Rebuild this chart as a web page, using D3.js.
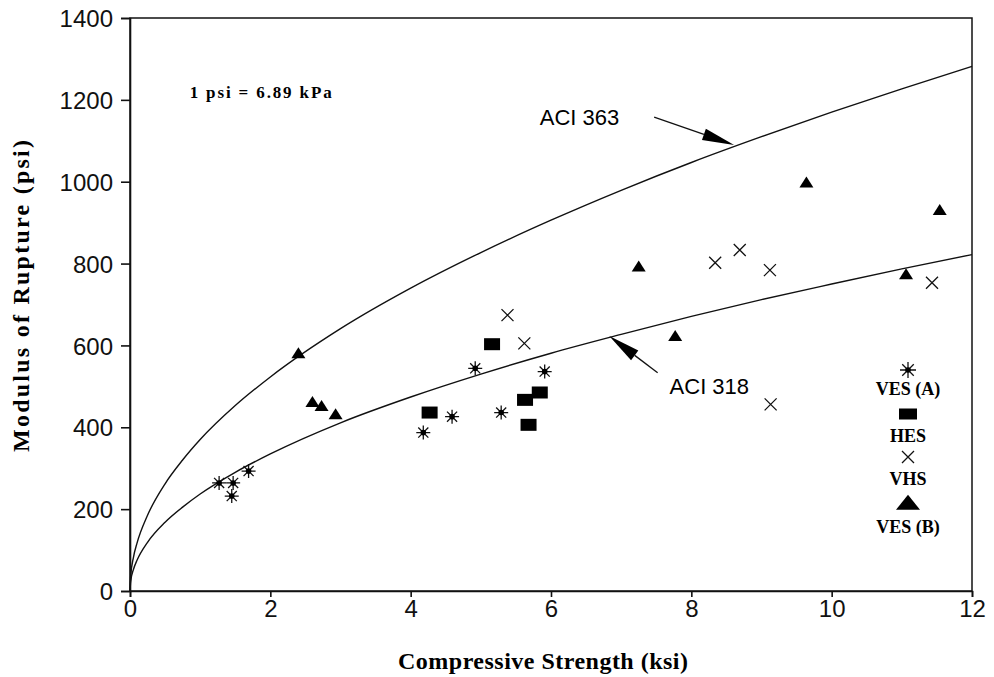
<!DOCTYPE html>
<html>
<head>
<meta charset="utf-8">
<script src="https://cdn.jsdelivr.net/npm/d3@7"></script>
<style>
  body { margin: 0; background: #fff; }
  svg { display: block; }
</style>
</head>
<body>
<div id="chart"></div>
<script>
// Data
const curveX = [0, 0.01, 0.05, 0.1, 0.25, 0.5, 0.75, 1, 1.5, 2, 3, 4, 5, 6, 7, 8, 9, 10, 11, 12];
const aci363 = [0, 37, 83, 117, 185, 262, 320, 370, 453, 523, 641, 740, 827, 906, 979, 1047, 1110, 1170, 1227, 1282];
const aci318 = [0, 24, 53, 75, 119, 168, 205, 237, 290, 335, 411, 474, 530, 581, 627, 671, 712, 750, 787, 822];

// [compressive strength ksi, modulus of rupture psi]
const vesA = [[1.27, 264], [1.47, 264], [1.45, 232], [1.69, 293], [4.18, 387], [4.59, 426], [5.29, 436], [4.92, 544], [5.91, 536]];
const hes = [[4.27, 436], [5.16, 603], [5.63, 467], [5.84, 485], [5.68, 406]];
const vhs = [[5.38, 674], [5.62, 605], [8.34, 802], [8.69, 833], [9.12, 784], [11.43, 753], [9.13, 456]];
const vesB = [[2.40, 579], [2.60, 460], [2.73, 450], [2.93, 430], [7.25, 791], [7.77, 621], [9.64, 996], [11.54, 929], [11.06, 772]];

const xTicks = [0, 2, 4, 6, 8, 10, 12];
const yTicks = [0, 200, 400, 600, 800, 1000, 1200, 1400];

const W = 994, H = 677;
const margin = { top: 18, right: 22, bottom: 86, left: 130 };
const width = W - margin.left - margin.right;
const height = H - margin.top - margin.bottom;

const svg = d3.select("#chart").append("svg")
    .attr("width", W)
    .attr("height", H);

const g = svg.append("g")
    .attr("transform", `translate(${margin.left},${margin.top})`);

const x = d3.scaleLinear().domain([0, 12]).range([0, width]);
const y = d3.scaleLinear().domain([0, 1400]).range([height, 0]);

const serif = "'Liberation Serif', 'Times New Roman', serif";
const sans = "'Liberation Sans', Arial, sans-serif";

// Frame (top and right sides)
g.append("rect")
    .attr("width", width)
    .attr("height", height)
    .attr("fill", "none")
    .attr("stroke", "#111")
    .attr("stroke-width", 1.5);

// Axes
const xAxis = g.append("g")
    .attr("transform", `translate(0,${height})`)
    .call(d3.axisBottom(x).tickValues(xTicks).tickSize(6).tickPadding(3).tickFormat(d3.format("d")));

const yAxis = g.append("g")
    .call(d3.axisLeft(y).tickValues(yTicks).tickSize(9).tickPadding(8).tickFormat(d3.format("d")));

[xAxis, yAxis].forEach(a => {
    a.selectAll("path, line").attr("stroke", "#111").attr("stroke-width", 1.6);
    a.selectAll("text")
        .attr("fill", "#111")
        .style("font-family", sans)
        .style("font-size", "24px");
});
yAxis.selectAll("text").attr("dy", "0.36em");

// Axis titles
svg.append("text")
    .attr("x", 543)
    .attr("y", 669)
    .attr("text-anchor", "middle")
    .attr("textLength", 290)
    .attr("lengthAdjust", "spacing")
    .style("font-family", serif)
    .style("font-weight", "bold")
    .style("font-size", "24px")
    .text("Compressive Strength (ksi)");

svg.append("text")
    .attr("transform", "translate(29,296) rotate(-90)")
    .attr("text-anchor", "middle")
    .attr("textLength", 312)
    .attr("lengthAdjust", "spacing")
    .style("font-family", serif)
    .style("font-weight", "bold")
    .style("font-size", "24px")
    .text("Modulus of Rupture (psi)");

// Code curves
const line = d3.line()
    .x(d => x(d[0]))
    .y(d => y(d[1]))
    .curve(d3.curveMonotoneX);

[aci363, aci318].forEach(vals => {
    g.append("path")
        .datum(curveX.map((v, i) => [v, vals[i]]))
        .attr("d", line)
        .attr("fill", "none")
        .attr("stroke", "#111")
        .attr("stroke-width", 1.4);
});

// Marker drawers
function triangle(sel, w, h) {
    sel.append("path")
        .attr("d", `M0,${-h * 0.62}L${w / 2},${h * 0.38}L${-w / 2},${h * 0.38}Z`)
        .attr("fill", "#000");
}
function square(sel, w, h) {
    sel.append("rect")
        .attr("x", -w / 2).attr("y", -h / 2)
        .attr("width", w).attr("height", h)
        .attr("fill", "#000");
}
function cross(sel, s) {
    sel.append("path")
        .attr("d", `M${-s},${-s}L${s},${s}M${-s},${s}L${s},${-s}`)
        .attr("stroke", "#111")
        .attr("stroke-width", 1.3);
}
function asterisk(sel, s) {
    const d = s * 0.72;
    sel.append("path")
        .attr("d", `M${-s},0L${s},0M0,${-s}L0,${s}M${-d},${-d}L${d},${d}M${-d},${d}L${d},${-d}`)
        .attr("stroke", "#111")
        .attr("stroke-width", 1.3);
    sel.append("circle").attr("r", 2.8).attr("fill", "#000");
}

function plot(data, draw) {
    g.selectAll(null)
        .data(data)
        .enter()
        .append("g")
        .attr("transform", d => `translate(${x(d[0])},${y(d[1])})`)
        .each(function () { draw(d3.select(this)); });
}

plot(vesA, s => asterisk(s, 7));
plot(hes, s => square(s, 16, 12));
plot(vhs, s => cross(s, 6));
plot(vesB, s => triangle(s, 14, 11));

// Annotations
g.append("text")
    .attr("x", x(0.85))
    .attr("y", y(1204))
    .attr("textLength", 142)
    .attr("lengthAdjust", "spacing")
    .style("font-family", serif)
    .style("font-weight", "bold")
    .style("font-size", "17px")
    .text("1 psi = 6.89 kPa");

function arrow(x1, y1, x2, y2) {
    const p1 = [x(x1), y(y1)], p2 = [x(x2), y(y2)];
    const ang = Math.atan2(p2[1] - p1[1], p2[0] - p1[0]);
    const len = 32, hw = 6;
    const bx = p2[0] - len * Math.cos(ang), by = p2[1] - len * Math.sin(ang);
    const nx = -Math.sin(ang) * hw, ny = Math.cos(ang) * hw;
    g.append("line")
        .attr("x1", p1[0]).attr("y1", p1[1])
        .attr("x2", bx).attr("y2", by)
        .attr("stroke", "#111").attr("stroke-width", 1.3);
    g.append("path")
        .attr("d", `M${p2[0]},${p2[1]}L${bx + nx},${by + ny}L${bx - nx},${by - ny}Z`)
        .attr("fill", "#000");
}

g.append("text")
    .attr("x", x(5.84))
    .attr("y", y(1138))
    .style("font-family", sans)
    .style("font-size", "22px")
    .text("ACI 363");
arrow(7.47, 1158, 8.61, 1090);

g.append("text")
    .attr("x", x(7.69))
    .attr("y", y(481))
    .style("font-family", sans)
    .style("font-size", "22px")
    .text("ACI 318");
arrow(7.52, 533, 6.83, 623);

// Legend
const legendItems = [
    { label: "VES (A)", draw: s => asterisk(s, 8), sy: 370, ty: 395 },
    { label: "HES", draw: s => square(s, 18, 11), sy: 414, ty: 442 },
    { label: "VHS", draw: s => cross(s, 6), sy: 457, ty: 485 },
    { label: "VES (B)", draw: s => triangle(s, 24, 15), sy: 504, ty: 533 }
];

const legend = svg.append("g").attr("transform", "translate(908,0)");
legendItems.forEach(it => {
    const s = legend.append("g").attr("transform", `translate(0,${it.sy})`);
    it.draw(s);
    legend.append("text")
        .attr("x", 0)
        .attr("y", it.ty)
        .attr("text-anchor", "middle")
        .style("font-family", serif)
        .style("font-weight", "bold")
        .style("font-size", "18px")
        .text(it.label);
});
</script>
</body>
</html>
